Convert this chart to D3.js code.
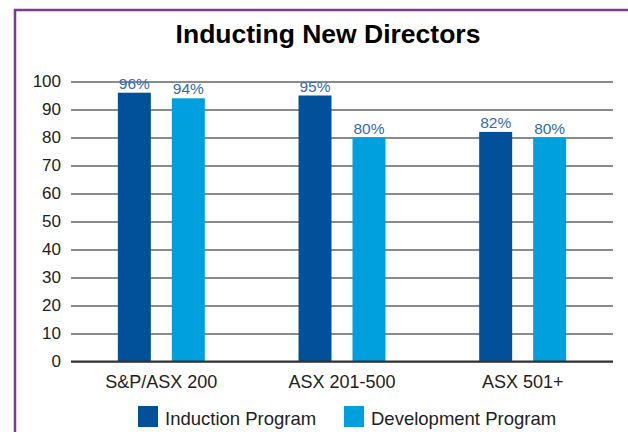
<!DOCTYPE html>
<html>
<head>
<meta charset="utf-8">
<script src="https://cdn.jsdelivr.net/npm/d3@7"></script>
<style>
  html, body { margin: 0; padding: 0; background: #fff; }
  svg { display: block; font-family: "Liberation Sans", Arial, Helvetica, sans-serif; }
</style>
</head>
<body>
<svg id="chart" width="628" height="432"></svg>
<script>
// Chart data
const categories = ["S&P/ASX 200", "ASX 201-500", "ASX 501+"];
const seriesNames = ["Induction Program", "Development Program"];
const inductionValues = [96, 95, 82];
const developmentValues = [94, 80, 80];
const yTicks = [0, 10, 20, 30, 40, 50, 60, 70, 80, 90, 100];
const titleText = "Inducting New Directors";

const colors = ["#00509a", "#009fde"];
const seriesValues = [inductionValues, developmentValues];

const svg = d3.select("#chart");
const W = 628, H = 432;
const margin = { left: 71, right: 15, top: 81.5, bottom: 70.5 };
const plotW = W - margin.left - margin.right;
const plotH = H - margin.top - margin.bottom;

// Frame around the panel (extends past the right and bottom edges)
svg.append("rect")
  .attr("x", 15).attr("y", 10)
  .attr("width", 640).attr("height", 450)
  .attr("fill", "none")
  .attr("stroke", "#7b3a96")
  .attr("stroke-width", 2.5);

// Title
svg.append("text")
  .attr("x", 328).attr("y", 43)
  .attr("text-anchor", "middle")
  .attr("font-size", 26.5)
  .attr("font-weight", "bold")
  .attr("fill", "#000")
  .text(titleText);

const g = svg.append("g").attr("transform", `translate(${margin.left},${margin.top})`);

const y = d3.scaleLinear().domain([0, 100]).range([plotH, 0]);
const x0 = d3.scaleBand().domain(categories).range([0, plotW]).paddingInner(0).paddingOuter(0);
const x1 = d3.scaleBand().domain(seriesNames).range([0, x0.bandwidth()])
  .paddingInner(0.389).paddingOuter(0.868);

// Gridlines with tick labels
const yAxis = d3.axisLeft(y).tickValues(yTicks).tickSize(-plotW).tickPadding(10);
const yg = g.append("g").call(yAxis);
yg.select(".domain").remove();
yg.selectAll(".tick line")
  .attr("stroke", "#666")
  .attr("stroke-width", 1.3);
yg.selectAll(".tick text")
  .attr("font-size", 17)
  .attr("fill", "#222")
  .attr("font-family", "'Liberation Sans', Arial, sans-serif");

// Bars
const groups = g.selectAll(".grp")
  .data(categories)
  .join("g")
  .attr("class", "grp")
  .attr("transform", d => `translate(${x0(d)},0)`);

groups.selectAll("rect")
  .data((d, i) => seriesNames.map((s, j) => ({ s, j, v: seriesValues[j][i] })))
  .join("rect")
  .attr("x", d => x1(d.s))
  .attr("width", x1.bandwidth())
  .attr("y", d => y(d.v))
  .attr("height", d => plotH - y(d.v))
  .attr("fill", d => colors[d.j]);

// Value labels
groups.selectAll("text.val")
  .data((d, i) => seriesNames.map((s, j) => ({ s, j, v: seriesValues[j][i] })))
  .join("text")
  .attr("class", "val")
  .attr("x", d => x1(d.s) + x1.bandwidth() / 2)
  .attr("y", d => y(d.v) - 4)
  .attr("text-anchor", "middle")
  .attr("font-size", 15.5)
  .attr("fill", "#336cb2")
  .text(d => d.v + "%");

// Baseline
g.append("line")
  .attr("x1", 0).attr("x2", plotW)
  .attr("y1", y(0)).attr("y2", y(0))
  .attr("stroke", "#333")
  .attr("stroke-width", 2);

// Category labels
const xAxis = d3.axisBottom(x0).tickSize(0).tickPadding(14);
const xg = g.append("g").attr("transform", `translate(0,${plotH})`).call(xAxis);
xg.select(".domain").remove();
xg.selectAll(".tick text")
  .attr("font-size", 18)
  .attr("fill", "#222")
  .attr("font-family", "'Liberation Sans', Arial, sans-serif");

// Legend
const legendX = [138, 344];
const legend = svg.append("g");
seriesNames.forEach((s, j) => {
  legend.append("rect")
    .attr("x", legendX[j]).attr("y", 406)
    .attr("width", 20).attr("height", 21)
    .attr("fill", colors[j]);
  legend.append("text")
    .attr("x", legendX[j] + 27).attr("y", 425)
    .attr("font-size", 18.5)
    .attr("fill", "#222")
    .text(s);
});
</script>
</body>
</html>
